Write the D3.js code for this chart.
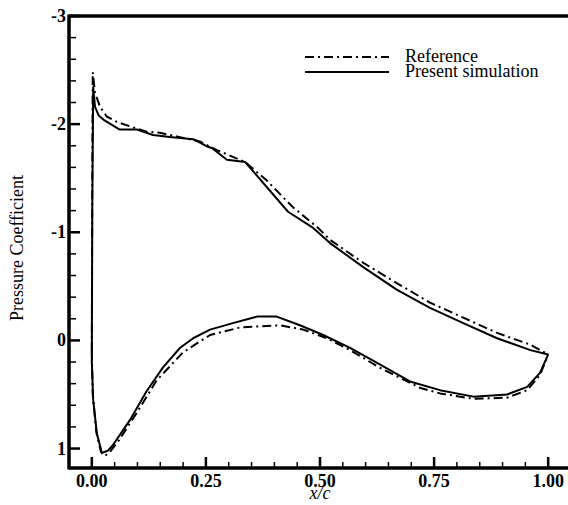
<!DOCTYPE html>
<html>
<head>
<meta charset="utf-8">
<script src="https://d3js.org/d3.v7.min.js"></script>
<style>
  body { margin: 0; background: #fff; }
  text { font-family: "Liberation Serif", "Times New Roman", serif; fill: #000; }
</style>
</head>
<body>
<div id="chart"></div>
<script>
// x/c and Cp
var refUpper = [
  [0.000, 0.10], [0.001, -1.50], [0.002, -2.48], [0.007, -2.29], [0.018, -2.16],
  [0.033, -2.07], [0.055, -2.02], [0.083, -1.98], [0.120, -1.93], [0.149, -1.92],
  [0.193, -1.88], [0.237, -1.84], [0.274, -1.76], [0.336, -1.65], [0.383, -1.48],
  [0.441, -1.23], [0.496, -1.04], [0.522, -0.93], [0.594, -0.72], [0.668, -0.53],
  [0.741, -0.35], [0.814, -0.21], [0.888, -0.07], [0.961, 0.04], [1.000, 0.13]
];
var refLower = [
  [0.000, 0.10], [0.002, 0.50], [0.010, 0.85], [0.020, 1.03], [0.028, 1.07],
  [0.040, 1.03], [0.060, 0.92], [0.100, 0.66], [0.142, 0.37], [0.200, 0.11],
  [0.259, -0.05], [0.325, -0.12], [0.412, -0.14], [0.463, -0.10], [0.515, -0.02],
  [0.566, 0.09], [0.630, 0.25], [0.720, 0.44], [0.763, 0.49], [0.836, 0.54],
  [0.910, 0.53], [0.954, 0.46], [0.982, 0.32], [1.000, 0.13]
];
var simUpper = [
  [0.000, 0.20], [0.001, -1.20], [0.003, -2.34], [0.007, -2.16], [0.015, -2.08],
  [0.026, -2.04], [0.045, -1.99], [0.061, -1.95], [0.099, -1.95], [0.134, -1.90],
  [0.171, -1.88], [0.222, -1.86], [0.237, -1.83], [0.254, -1.79], [0.263, -1.78],
  [0.296, -1.67], [0.336, -1.65], [0.430, -1.19], [0.485, -1.04], [0.522, -0.90],
  [0.594, -0.68], [0.668, -0.47], [0.741, -0.30], [0.814, -0.16], [0.888, -0.02],
  [0.961, 0.09], [1.000, 0.13]
];
var simLower = [
  [0.000, 0.20], [0.003, 0.55], [0.011, 0.86], [0.022, 1.04], [0.035, 1.02],
  [0.046, 0.97], [0.083, 0.74], [0.120, 0.47], [0.156, 0.25], [0.193, 0.07],
  [0.222, -0.02], [0.259, -0.10], [0.309, -0.16], [0.362, -0.22], [0.405, -0.22],
  [0.456, -0.14], [0.507, -0.05], [0.566, 0.07], [0.630, 0.22], [0.697, 0.38],
  [0.763, 0.46], [0.836, 0.52], [0.910, 0.50], [0.954, 0.43], [0.982, 0.30],
  [1.000, 0.13]
];
var xTicks = [0, 0.25, 0.5, 0.75, 1.0];
var xTickLabels = ["0.00", "0.25", "0.50", "0.75", "1.00"];
var yTicks = [-3, -2, -1, 0, 1];
var yTickLabels = ["-3", "-2", "-1", "0", "1"];
var legendNames = ["Reference", "Present simulation"];

var width = 568, height = 505;
var plotLeft = 69, plotTop = 16, plotRight = 571, plotBottom = 468;

var svg = d3.select("#chart").append("svg")
  .attr("width", width)
  .attr("height", height);

var x = d3.scaleLinear().domain([-0.05, 1.05]).range([plotLeft, plotRight]);
var y = d3.scaleLinear().domain([-3, 1.18]).range([plotTop, plotBottom]);

var line = d3.line()
  .x(function(d) { return x(d[0]); })
  .y(function(d) { return y(d[1]); });

var dashDot = "9,4,2,4";

function drawCurve(data, dashed) {
  svg.append("path")
    .datum(data)
    .attr("d", line)
    .attr("fill", "none")
    .attr("stroke", "#000")
    .attr("stroke-width", 2)
    .attr("stroke-linejoin", "round")
    .attr("stroke-dasharray", dashed ? dashDot : null);
}

drawCurve(refUpper, true);
drawCurve(refLower, true);
drawCurve(simUpper, false);
drawCurve(simLower, false);

// minor ticks
var xMinor = d3.range(0, 21).map(function(i) { return i * 0.05; })
  .filter(function(v) { return Math.abs(v * 4 - Math.round(v * 4)) > 1e-6; });
var yMinor = d3.range(-14, 6).map(function(i) { return i * 0.2; })
  .filter(function(v) { return Math.abs(v - Math.round(v)) > 1e-6; });

svg.selectAll(".xminor").data(xMinor).enter().append("line")
  .attr("x1", function(d) { return x(d); }).attr("x2", function(d) { return x(d); })
  .attr("y1", plotBottom).attr("y2", plotBottom - 6)
  .attr("stroke", "#000").attr("stroke-width", 1.5);

svg.selectAll(".yminor").data(yMinor).enter().append("line")
  .attr("y1", function(d) { return y(d); }).attr("y2", function(d) { return y(d); })
  .attr("x1", plotLeft).attr("x2", plotLeft + 7)
  .attr("stroke", "#000").attr("stroke-width", 1.5);

// major ticks
svg.selectAll(".xmajor").data(xTicks).enter().append("line")
  .attr("x1", function(d) { return x(d); }).attr("x2", function(d) { return x(d); })
  .attr("y1", plotBottom).attr("y2", plotBottom - 11)
  .attr("stroke", "#000").attr("stroke-width", 2.5);

svg.selectAll(".ymajor").data(yTicks).enter().append("line")
  .attr("y1", function(d) { return y(d); }).attr("y2", function(d) { return y(d); })
  .attr("x1", plotLeft).attr("x2", plotLeft + 11)
  .attr("stroke", "#000").attr("stroke-width", 2.5);

// frame
svg.append("line").attr("x1", plotLeft).attr("x2", plotLeft).attr("y1", plotTop - 1.5).attr("y2", plotBottom + 1.5)
  .attr("stroke", "#000").attr("stroke-width", 3.5);
svg.append("line").attr("x1", plotLeft).attr("x2", plotRight).attr("y1", plotBottom).attr("y2", plotBottom)
  .attr("stroke", "#000").attr("stroke-width", 3.5);
svg.append("line").attr("x1", plotLeft).attr("x2", plotRight).attr("y1", plotTop).attr("y2", plotTop)
  .attr("stroke", "#000").attr("stroke-width", 3.5);

// tick labels
svg.selectAll(".xlabel").data(xTicks).enter().append("text")
  .attr("x", function(d) { return x(d); })
  .attr("y", 487)
  .attr("text-anchor", "middle")
  .style("font-size", "18px")
  .style("font-weight", "bold")
  .text(function(d, i) { return xTickLabels[i]; });

svg.selectAll(".ylabel").data(yTicks).enter().append("text")
  .attr("x", 66)
  .attr("y", function(d) { return y(d) + 6; })
  .attr("text-anchor", "end")
  .style("font-size", "18px")
  .style("font-weight", "bold")
  .text(function(d, i) { return yTickLabels[i]; });

// axis titles
svg.append("text")
  .attr("x", 320).attr("y", 499)
  .attr("text-anchor", "middle")
  .style("font-size", "18px")
  .style("font-style", "italic")
  .text("x/c");

svg.append("text")
  .attr("transform", "translate(23,248) rotate(-90)")
  .attr("text-anchor", "middle")
  .style("font-size", "18px")
  .text("Pressure Coefficient");

// legend
var legend = svg.append("g");
legendNames.forEach(function(name, i) {
  var ly = 57 + i * 15;
  legend.append("line")
    .attr("x1", 305).attr("x2", 389)
    .attr("y1", ly).attr("y2", ly)
    .attr("stroke", "#000").attr("stroke-width", 2)
    .attr("stroke-dasharray", i === 0 ? dashDot : null);
  legend.append("text")
    .attr("x", 405).attr("y", ly + 5)
    .style("font-size", "18px")
    .text(name);
});
</script>
</body>
</html>
